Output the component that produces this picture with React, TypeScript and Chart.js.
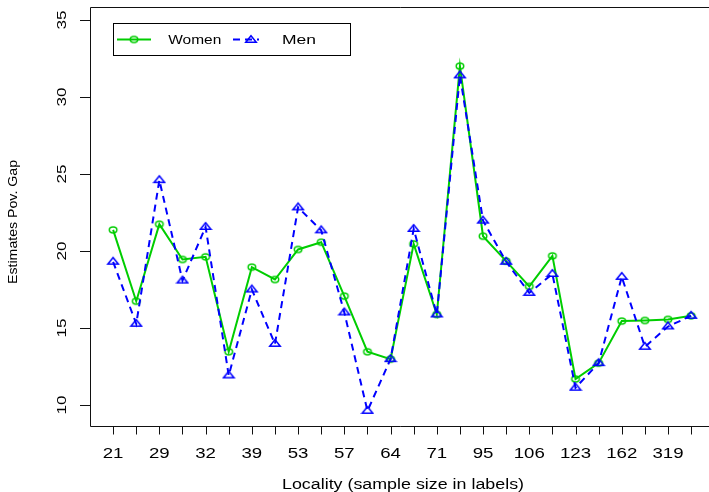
import React, { useEffect, useRef } from "react";
import { Chart, registerables } from "chart.js";

Chart.register(...registerables);

// ---- data ----
const LABELS = ["21", "", "29", "", "32", "", "39", "", "53", "", "57", "", "64", "", "71", "", "95", "", "106", "", "123", "", "162", "", "319", ""];
const WOMEN = [21.37, 16.74, 21.74, 19.45, 19.62, 13.46, 18.95, 18.15, 20.1, 20.57, 17.07, 13.46, 12.98, 20.46, 15.88, 32.0, 20.96, 19.34, 17.7, 19.68, 11.69, 12.72, 15.45, 15.49, 15.56, 15.79];
const MEN = [19.3, 15.27, 24.6, 18.08, 21.56, 11.92, 17.5, 13.97, 22.83, 21.34, 16.01, 9.62, 12.98, 21.43, 15.88, 31.4, 21.97, 19.3, 17.28, 18.51, 11.12, 12.72, 18.32, 13.78, 15.1, 15.79];
const Y_TICKS = [10, 15, 20, 25, 30, 35];
const SERIES_NAMES = ["Women", "Men"];
const X_TITLE = "Locality (sample size in labels)";
const Y_TITLE = "Estimates Pov. Gap";

const GREEN = "#00CD00";
const BLUE = "#0000FF";
const FONT = '"Liberation Sans", Arial, Helvetica, sans-serif';

function ellipseMarker(color: string) {
  const c = document.createElement("canvas");
  c.width = 12;
  c.height = 10;
  const g = c.getContext("2d")!;
  g.strokeStyle = color;
  g.lineWidth = 1.5;
  g.beginPath();
  g.ellipse(6, 5, 3.75, 2.9, 0, 0, Math.PI * 2);
  g.stroke();
  return c;
}

function triangleMarker(color: string) {
  const c = document.createElement("canvas");
  c.width = 14;
  c.height = 14;
  const g = c.getContext("2d")!;
  g.strokeStyle = color;
  g.lineWidth = 1.5;
  g.lineJoin = "miter";
  g.beginPath();
  g.moveTo(7, 7 - 4.33);
  g.lineTo(7 + 5.25, 7 + 2.17);
  g.lineTo(7 - 5.25, 7 + 2.17);
  g.closePath();
  g.stroke();
  return c;
}

function text(
  ctx: CanvasRenderingContext2D,
  s: string,
  x: number,
  y: number,
  size: number,
  sx: number,
  align: CanvasTextAlign,
  rot = 0
) {
  ctx.save();
  ctx.translate(x, y);
  if (rot) ctx.rotate(rot);
  ctx.scale(sx, 1);
  ctx.font = `${size}px ${FONT}`;
  ctx.textAlign = align;
  ctx.textBaseline = "alphabetic";
  ctx.fillStyle = "#000";
  ctx.fillText(s, 0, 0);
  ctx.restore();
}

function fitText(
  ctx: CanvasRenderingContext2D,
  s: string,
  x: number,
  y: number,
  size: number,
  width: number,
  align: CanvasTextAlign,
  rot = 0
) {
  ctx.save();
  ctx.font = `${size}px ${FONT}`;
  const w = ctx.measureText(s).width;
  ctx.restore();
  text(ctx, s, x, y, size, width / w, align, rot);
}

export default function App() {
  const ref = useRef<HTMLCanvasElement>(null);

  useEffect(() => {
    const canvas = ref.current!;
    const circ = ellipseMarker(GREEN);
    const tri = triangleMarker(BLUE);

    const decor = {
      id: "rdecor",
      afterDraw(chart: any) {
        const ctx: CanvasRenderingContext2D = chart.ctx;
        const a = chart.chartArea;
        const xs = chart.scales.x;
        const ys = chart.scales.y;
        ctx.save();
        // box (right side is off-canvas)
        ctx.strokeStyle = "#111";
        ctx.lineWidth = 1;
        ctx.beginPath();
        ctx.moveTo(chart.width + 5, a.top + 0.5);
        ctx.lineTo(a.left + 0.5, a.top + 0.5);
        ctx.lineTo(a.left + 0.5, a.bottom + 0.5);
        ctx.lineTo(chart.width + 5, a.bottom + 0.5);
        ctx.stroke();

        // x ticks
        ctx.beginPath();
        LABELS.forEach((_, i) => {
          const px = Math.round(xs.getPixelForValue(i + 1)) + 0.5;
          ctx.moveTo(px, a.bottom + 0.5);
          ctx.lineTo(px, a.bottom + 8.5);
        });
        // y ticks
        Y_TICKS.forEach((v) => {
          const py = Math.round(ys.getPixelForValue(v)) + 0.5;
          ctx.moveTo(a.left - 10, py);
          ctx.lineTo(a.left + 0.5, py);
        });
        ctx.stroke();

        LABELS.forEach((lab, i) => {
          if (!lab) return;
          const px = xs.getPixelForValue(i + 1);
          text(ctx, lab, px, 457.7, 14, 1.33, "center");
        });
        Y_TICKS.forEach((v) => {
          const py = ys.getPixelForValue(v);
          text(ctx, String(v), 65.5, py, 13, 1.32, "center", -Math.PI / 2);
        });

        // titles
        fitText(ctx, X_TITLE, 403, 488.8, 14, 242, "center");
        fitText(ctx, Y_TITLE, 17.3, 222, 12.8, 124, "center", -Math.PI / 2);

        // legend
        ctx.strokeStyle = "#000";
        ctx.lineWidth = 1;
        ctx.strokeRect(113.5, 23.5, 237, 32);
        const ly = 39.5;
        ctx.lineWidth = 2;
        ctx.strokeStyle = GREEN;
        ctx.beginPath();
        ctx.moveTo(117, ly);
        ctx.lineTo(151, ly);
        ctx.stroke();
        ctx.drawImage(circ, 134 - 6, ly - 5);
        ctx.strokeStyle = BLUE;
        ctx.setLineDash([7, 5]);
        ctx.beginPath();
        ctx.moveTo(233, ly);
        ctx.lineTo(259, ly);
        ctx.stroke();
        ctx.setLineDash([]);
        ctx.drawImage(tri, 251 - 7, ly - 7 + 0.5);
        fitText(ctx, SERIES_NAMES[0], 168.3, 44.3, 13, 53, "left");
        fitText(ctx, SERIES_NAMES[1], 282, 44.3, 13, 34, "left");
        ctx.restore();
      },
    };

    const chart = new Chart(canvas, {
      type: "line",
      data: {
        labels: LABELS,
        datasets: [
          {
            label: SERIES_NAMES[0],
            data: WOMEN.map((y, i) => ({ x: i + 1, y })),
            borderColor: GREEN,
            borderWidth: 2,
            pointStyle: circ as any,
            pointRadius: 5,
            tension: 0,
            fill: false,
            order: 2,
          },
          {
            label: SERIES_NAMES[1],
            data: MEN.map((y, i) => ({ x: i + 1, y })),
            borderColor: BLUE,
            borderWidth: 2,
            borderDash: [7, 5],
            pointStyle: tri as any,
            pointRadius: 5,
            tension: 0,
            fill: false,
            order: 1,
          },
        ],
      },
      options: {
        animation: false,
        responsive: false,
        devicePixelRatio: 1,
        layout: { autoPadding: false, padding: { left: 90, top: 7, right: 0, bottom: 66 } },
        plugins: { legend: { display: false }, tooltip: { enabled: false } },
        events: [],
        scales: {
          x: { type: "linear", min: 0, max: 619 / 23.12, display: false },
          y: { type: "linear", min: 8.64, max: 35.84, display: false },
        },
      },
      plugins: [decor],
    });
    return () => chart.destroy();
  }, []);

  return (
    <div style={{ position: "fixed", left: 0, top: 0, width: 709, height: 492, background: "#fff" }}>
      <canvas ref={ref} width={709} height={492} style={{ display: "block" }} />
    </div>
  );
}
